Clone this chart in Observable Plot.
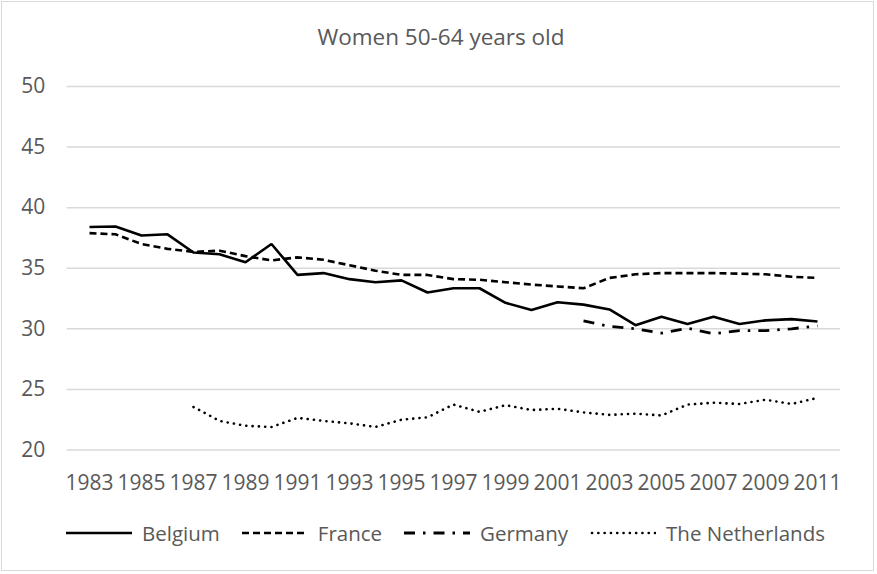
<!DOCTYPE html>
<html>
<head>
<meta charset="utf-8">
<script src="https://cdn.jsdelivr.net/npm/d3@7"></script>
<script src="https://cdn.jsdelivr.net/npm/@observablehq/plot@0.6"></script>
<style>
  body { margin: 0; background: #fff; font-family: "Open Sans", sans-serif; }
  #chart { position: relative; width: 877px; height: 574px; overflow: hidden; background: #fff; }
  #frame { position: absolute; left: 1px; top: 1px; width: 873px; height: 570px; border: 1px solid #d9d9d9; box-sizing: border-box; pointer-events: none; }
  #title { position: absolute; left: 0; width: 882px; top: 21px; text-align: center; font-size: 22.5px; line-height: 32px; color: #595959; }
  #plot { position: absolute; left: 0; top: 0; }
  #legend { position: absolute; left: 66px; top: 518px; display: flex; align-items: center; font-size: 20.5px; color: #595959; line-height: 30px; }
  .item { display: flex; align-items: center; margin-right: 22px; }
  .item svg { margin-right: 10px; }
</style>
</head>
<body>
<div id="chart">
  <div id="title"></div>
  <div id="plot"></div>
  <div id="legend"></div>
  <div id="frame"></div>
</div>
<script>
const title = "Women 50-64 years old";
const years = [1983,1984,1985,1986,1987,1988,1989,1990,1991,1992,1993,1994,1995,1996,1997,1998,1999,2000,2001,2002,2003,2004,2005,2006,2007,2008,2009,2010,2011];
const belgium = [38.4,38.45,37.7,37.8,36.3,36.15,35.5,37.0,34.45,34.6,34.1,33.85,34.0,33.0,33.35,33.35,32.15,31.55,32.2,32.0,31.6,30.3,31.0,30.4,31.0,30.4,30.7,30.8,30.6];
const france = [37.9,37.8,37.0,36.6,36.35,36.45,36.0,35.65,35.9,35.7,35.25,34.8,34.45,34.45,34.1,34.05,33.85,33.65,33.5,33.35,34.2,34.5,34.6,34.6,34.6,34.55,34.5,34.3,34.2];
const germany = [null,null,null,null,null,null,null,null,null,null,null,null,null,null,null,null,null,null,null,30.65,30.2,30.0,29.65,30.05,29.6,29.85,29.85,30.0,30.25];
const netherlands = [null,null,null,null,23.55,22.4,22.0,21.9,22.65,22.4,22.2,21.9,22.5,22.7,23.75,23.15,23.7,23.3,23.4,23.1,22.9,23.0,22.85,23.75,23.9,23.8,24.15,23.8,24.3];
const seriesNames = ["Belgium","France","Germany","The Netherlands"];
const seriesValues = [belgium, france, germany, netherlands];
const yTicks = [20,25,30,35,40,45,50];
const xTickLabels = years.filter((d, i) => i % 2 === 0);

const styles = {
  "Belgium": {dash: null, width: 2.6, cap: "butt"},
  "France": {dash: "7,4", width: 2.6, cap: "butt"},
  "Germany": {dash: "11,8,2.5,8", width: 2.8, cap: "butt"},
  "The Netherlands": {dash: "0.1,6.2", width: 2.6, cap: "round"}
};

document.getElementById("title").textContent = title;

const data = [];
seriesNames.forEach((name, s) => {
  years.forEach((y, i) => {
    const v = seriesValues[s][i];
    if (v != null) data.push({series: name, year: String(y), value: v});
  });
});

const marks = [
  Plot.ruleY(yTicks, {stroke: "#d9d9d9", strokeWidth: 1.5})
];
seriesNames.forEach(name => {
  const st = styles[name];
  marks.push(Plot.line(data.filter(d => d.series === name), {
    x: "year", y: "value", stroke: "#000", strokeWidth: st.width,
    strokeDasharray: st.dash, strokeLinecap: st.cap, strokeLinejoin: "miter", curve: "linear"
  }));
});
marks.push(Plot.axisX({ticks: xTickLabels.map(String), tickSize: 0, tickPadding: 25, fontSize: 21, fill: "#595959", label: null}));
marks.push(Plot.axisY({ticks: yTicks, tickSize: 0, tickPadding: 22, fontSize: 21, fill: "#595959", label: null}));

const plot = Plot.plot({
  width: 877,
  height: 500,
  marginTop: 86,
  marginBottom: 50.5,
  marginLeft: 66.7,
  marginRight: 37,
  style: {fontFamily: "'Open Sans', sans-serif", background: "transparent", color: "#595959"},
  x: {type: "point", domain: years.map(String), padding: 0.5},
  y: {domain: [20, 50]},
  marks
});
document.getElementById("plot").appendChild(plot);

const legend = document.getElementById("legend");
seriesNames.forEach(name => {
  const st = styles[name];
  const item = document.createElement("div");
  item.className = "item";
  const ns = "http://www.w3.org/2000/svg";
  const svg = document.createElementNS(ns, "svg");
  svg.setAttribute("width", 66);
  svg.setAttribute("height", 10);
  const ln = document.createElementNS(ns, "line");
  ln.setAttribute("x1", name === "The Netherlands" ? 2 : 0);
  ln.setAttribute("x2", 66);
  ln.setAttribute("y1", 5);
  ln.setAttribute("y2", 5);
  ln.setAttribute("stroke", "#000");
  ln.setAttribute("stroke-width", st.width);
  if (st.dash) ln.setAttribute("stroke-dasharray", st.dash);
  ln.setAttribute("stroke-linecap", st.cap);
  svg.appendChild(ln);
  const span = document.createElement("span");
  span.textContent = name;
  item.appendChild(svg);
  item.appendChild(span);
  legend.appendChild(item);
});
</script>
</body>
</html>
